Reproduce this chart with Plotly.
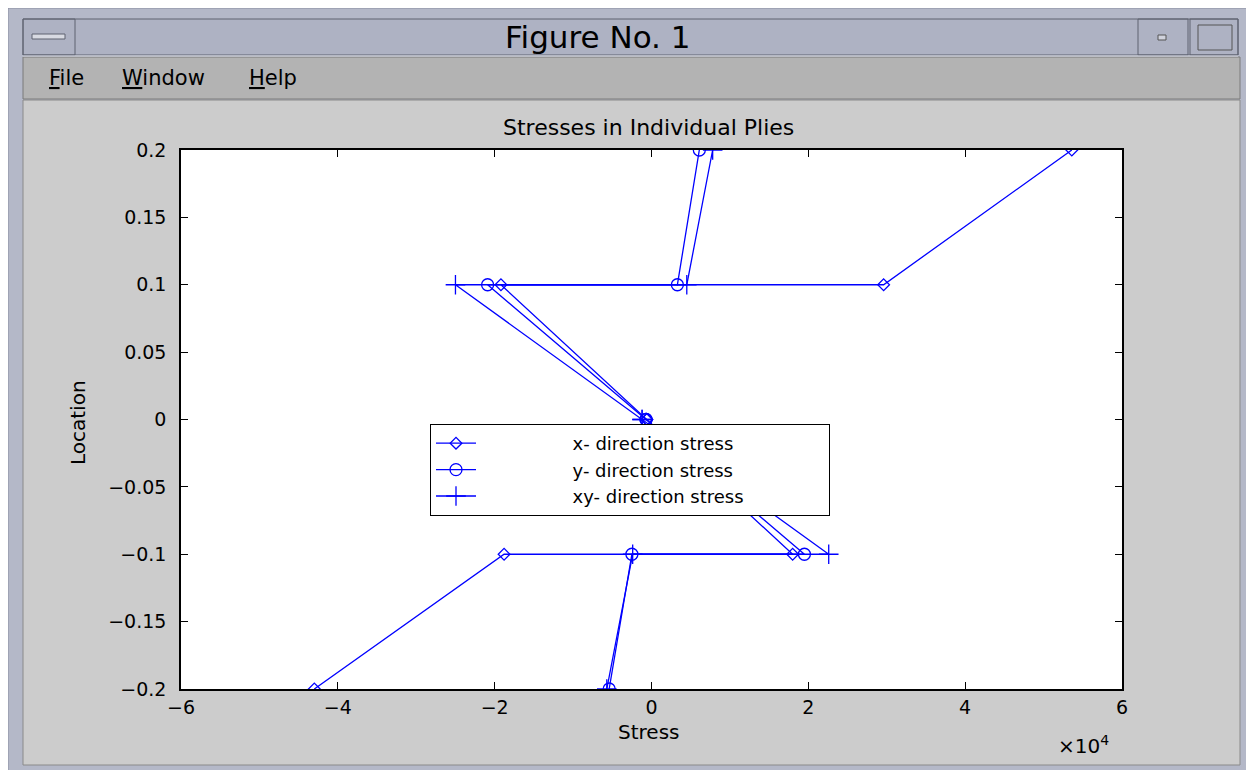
import plotly.graph_objects as go

# ply interface locations (each ply has a bottom and top point)
location = [-0.2, -0.1, -0.1, 0.0, 0.0, 0.1, 0.1, 0.2]

# stresses (raw units, axis shows x 10^4)
x_stress = [-43000, -18800, 18000, -600, -600, -19200, 29600, 53600]
y_stress = [-5400, -2500, 19500, -700, -700, -20900, 3300, 6100]
xy_stress = [-5700, -2400, 22600, -1200, -1200, -25000, 4500, 7800]

series_names = ["x- direction stress", "y- direction stress", "xy- direction stress"]
series_symbols = ["diamond-open", "circle-open", "cross-thin-open"]
series_sizes = [9, 12, 14]

x_ticks = [-6, -4, -2, 0, 2, 4, 6]
x_ticktext = ["\u22126", "\u22124", "\u22122", "0", "2", "4", "6"]
y_ticks = [-0.2, -0.15, -0.1, -0.05, 0, 0.05, 0.1, 0.15, 0.2]
y_ticktext = ["\u22120.2", "\u22120.15", "\u22120.1", "\u22120.05", "0", "0.05", "0.1", "0.15", "0.2"]

FONT = "DejaVu Sans"
OFF = 8  # page body margin
W, H = 1254, 770
L, R, T, B = 181, 1122, 150, 689


def px(x):
    return (x - L) / (R - L)


def py(y):
    return (B - y) / (B - T)


def rect(x0, y0, x1, y1, fill=None, line=None, lw=1):
    return dict(type="rect", xref="paper", yref="paper", layer="below",
                x0=px(x0), x1=px(x1), y0=py(y0), y1=py(y1),
                fillcolor=fill if fill else "rgba(0,0,0,0)",
                line=dict(color=line if line else "rgba(0,0,0,0)", width=lw))


def hline(x0, x1, y, color, lw=1):
    return dict(type="line", xref="paper", yref="paper", layer="below",
                x0=px(x0), x1=px(x1), y0=py(y), y1=py(y),
                line=dict(color=color, width=lw))


fig = go.Figure()

for vals, name, sym, sz in zip([x_stress, y_stress, xy_stress], series_names, series_symbols, series_sizes):
    fig.add_trace(go.Scatter(
        x=[v / 1e4 for v in vals], y=location, mode="lines+markers",
        name="\u00a0" * 16 + name + "\u00a0" * 14,
        line=dict(color="#0000ff", width=1.3),
        marker=dict(symbol=sym, size=sz, color="#0000ff",
                    line=dict(color="#0000ff", width=1.3)),
    ))

# window chrome
shapes = [
    rect(8, 8, 1256, 772, "#b4b8c8", "#8a8ea0"),
    rect(23, 19, 1238, 55, "#aeb2c3", "#5f6270"),
    rect(23, 19, 75, 55, None, "#5f6270"),
    rect(32, 34, 65, 39, "#d8dae2", "#5f6270"),
    rect(1138, 19, 1188, 55, None, "#5f6270"),
    rect(1158, 35, 1166, 40, "#d0d2dc", "#555555"),
    rect(1190, 19, 1238, 55, None, "#5f6270"),
    rect(1198, 25, 1232, 50, None, "#555555"),
    rect(23, 57, 1240, 99, "#b3b3b3", "#7a7a7a"),
    rect(23, 100, 1240, 765, "#cccccc", "#8a8a8a"),
    rect(L, T, R, B, "white", None, 0),
    hline(23, 1238, 56, "#e0e2ea"),
]

ann = [
    dict(text="Figure No. 1", x=px(598), y=py(37), font=dict(size=31, color="black")),
    dict(text="<u>F</u>ile", x=px(47), y=py(78), xanchor="left", font=dict(size=21, color="black")),
    dict(text="<u>W</u>indow", x=px(120), y=py(78), xanchor="left", font=dict(size=21, color="black")),
    dict(text="<u>H</u>elp", x=px(247), y=py(78), xanchor="left", font=dict(size=21, color="black")),
    dict(text="Stresses in Individual Plies", x=px(648), y=py(128), font=dict(size=22, color="black")),
    dict(text="Stress", x=px(648), y=py(732), font=dict(size=20, color="black")),
    dict(text="Location", x=px(78), y=py(423), textangle=-90, font=dict(size=20, color="black")),
    dict(text="\u00d710<sup>4</sup>", x=px(1056), y=py(745), xanchor="left", font=dict(size=20, color="black")),
]
for a in ann:
    a.update(xref="paper", yref="paper", showarrow=False)
    a.setdefault("xanchor", "center")
    a.setdefault("yanchor", "middle")

fig.update_layout(
    width=W - OFF, height=H - OFF, autosize=False,
    margin=dict(l=L - OFF, r=W - R, t=T - OFF, b=H - B, pad=0),
    paper_bgcolor="white", plot_bgcolor="white",
    font=dict(family=FONT, size=19, color="black"),
    shapes=shapes, annotations=ann,
    showlegend=True,
    legend=dict(x=px(430), y=py(424), xanchor="left", yanchor="top",
                bgcolor="white", bordercolor="black", borderwidth=1,
                font=dict(size=18, color="black"), itemwidth=40,
                tracegroupgap=0),
)
fig.update_xaxes(range=[-6, 6], tickvals=x_ticks, ticktext=x_ticktext,
                 ticks="inside", ticklen=7, tickcolor="black",
                 showline=True, linecolor="black", linewidth=1.5, mirror="ticks",
                 showgrid=False, zeroline=False, ticklabelstandoff=0)
fig.update_yaxes(range=[-0.2, 0.2], tickvals=y_ticks, ticktext=y_ticktext,
                 ticks="inside", ticklen=7, tickcolor="black",
                 showline=True, linecolor="black", linewidth=1.5, mirror="ticks",
                 showgrid=False, zeroline=False, ticklabelstandoff=9)

fig.write_html("out.html")
